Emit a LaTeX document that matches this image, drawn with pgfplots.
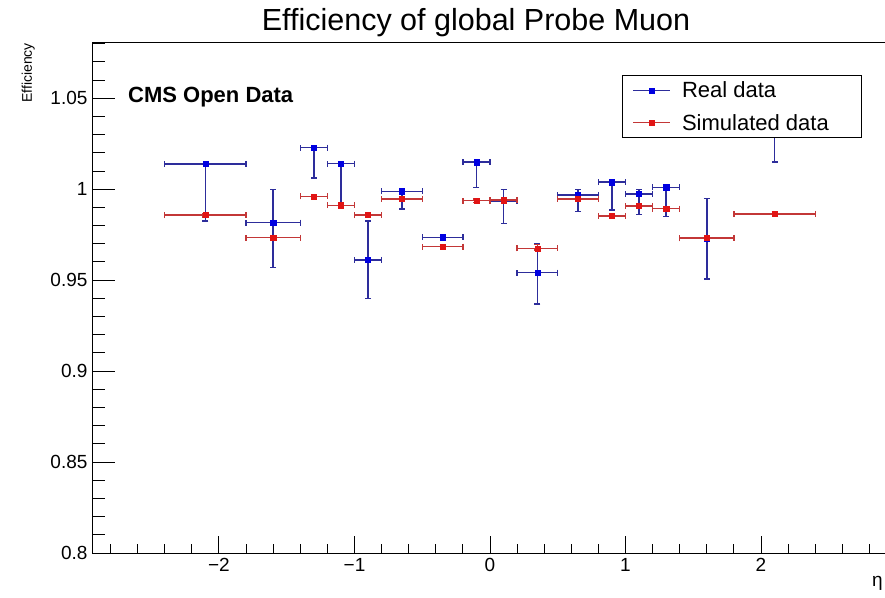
\documentclass[border=0pt]{standalone}
\usepackage{pgfplots}
\pgfplotsset{compat=1.18}
\usepackage{pgfplotstable}
\usepackage{fontspec}
\setmainfont{Liberation Sans}
\definecolor{bluemk}{RGB}{0,0,225}
\definecolor{blueerr}{RGB}{45,45,155}
\definecolor{redmk}{RGB}{225,20,20}
\definecolor{rederr}{RGB}{195,55,55}

\pgfplotstableread{
x     y      exm  exp  eym    eyp
-2.1  1.0139 0.3  0.3  0.0314 0
-1.6  0.9816 0.2  0.2  0.0246 0.0184
-1.3  1.0229 0.1  0.1  0.0168 0
-1.1  1.0141 0.1  0.1  0.0228 0
-0.9  0.9612 0.1  0.1  0.0212 0.0213
-0.65 0.9989 0.15 0.15 0.0098 0.0010
-0.35 0.9736 0.15 0.15 0.0010 0.0010
-0.1  1.0149 0.1  0.1  0.0140 0
0.1   0.9935 0.1  0.1  0.0125 0.0065
0.35  0.9541 0.15 0.15 0.0173 0.0161
0.65  0.9969 0.15 0.15 0.0092 0.0031
0.9   1.0039 0.1  0.1  0.0153 0
1.1   0.9974 0.1  0.1  0.0112 0.0026
1.3   1.0011 0.1  0.1  0.0162 0
1.6   0.9730 0.2  0.2  0.0224 0.0220
2.1   1.0450 0.3  0.3  0.0301 0
}\realdata

\pgfplotstableread{
x     y      exm  exp  eym    eyp
-2.1  0.9858 0.3  0.3  0.0010 0.0010
-1.6  0.9733 0.2  0.2  0.0010 0.0010
-1.3  0.9961 0.1  0.1  0.0010 0.0010
-1.1  0.9912 0.1  0.1  0.0010 0.0010
-0.9  0.9858 0.1  0.1  0.0010 0.0010
-0.65 0.9947 0.15 0.15 0.0010 0.0010
-0.35 0.9684 0.15 0.15 0.0010 0.0010
-0.1  0.9937 0.1  0.1  0.0010 0.0010
0.1   0.9940 0.1  0.1  0.0010 0.0010
0.35  0.9675 0.15 0.15 0.0010 0.0020
0.65  0.9947 0.15 0.15 0.0010 0.0010
0.9   0.9853 0.1  0.1  0.0010 0.0010
1.1   0.9908 0.1  0.1  0.0010 0.0010
1.3   0.9893 0.1  0.1  0.0010 0.0010
1.6   0.9732 0.2  0.2  0.0010 0.0010
2.1   0.9864 0.3  0.3  0.0010 0.0010
}\simdata

\begin{document}
\begin{tikzpicture}[x=1pt,y=1pt]
\path[use as bounding box] (-92,-44) rectangle (793,553);
\clip (-92,-44) rectangle (793,553);
\begin{axis}[
  at={(0pt,0pt)}, anchor=south west, scale only axis,
  width=796pt, height=510pt,
  xmin=-2.937, xmax=2.937, ymin=0.8, ymax=1.0804,
  axis line style={line width=1pt, black},
  tick pos=left, tick align=inside,
  xtick={-2,-1,0,1,2}, xticklabels={−2,−1,0,1,2},
  minor xtick={-2.8,-2.6,-2.4,-2.2,-1.8,-1.6,-1.4,-1.2,-0.8,-0.6,-0.4,-0.2,0.2,0.4,0.6,0.8,1.2,1.4,1.6,1.8,2.2,2.4,2.6,2.8},
  ytick={0.8,0.85,0.9,0.95,1,1.05}, yticklabels={0.8,0.85,0.9,0.95,1,1.05},
  minor ytick={0.81,0.82,0.83,0.84,0.86,0.87,0.88,0.89,0.91,0.92,0.93,0.94,0.96,0.97,0.98,0.99,1.01,1.02,1.03,1.04,1.06,1.07,1.08},
  major x tick style={/pgfplots/major tick length=17pt, line width=1pt, black},
  minor x tick style={/pgfplots/minor tick length=9pt, line width=1pt, black},
  major y tick style={/pgfplots/major tick length=23pt, line width=1pt, black},
  minor y tick style={/pgfplots/minor tick length=13pt, line width=1pt, black},
  tick label style={font=\fontsize{19}{19}\selectfont},
  xticklabel style={yshift=-2pt},
  yticklabel style={xshift=-1pt},
  legend image code/.code={%
    \draw[#1] (0pt,0pt) -- (37pt,0pt);
    \draw[#1] plot coordinates {(18.5pt,0pt)};},
  legend cell align=left,
  legend style={at={(0.666,0.937)}, anchor=north west, draw=black, line width=1pt,
    fill=white, font=\fontsize{22}{22}\selectfont, inner xsep=10pt, inner ysep=4pt,
    row sep=11pt},
  clip=false,
]
\addlegendimage{blueerr, line width=1.4pt, mark=square*, mark size=2.6pt, mark options={fill=bluemk, draw=bluemk, line width=0.4pt}}
\addlegendentry{\hspace{9pt}\makebox[167pt][l]{Real data}}
\addlegendimage{rederr, line width=1.4pt, mark=square*, mark size=2.6pt, mark options={fill=redmk, draw=redmk, line width=0.4pt}}
\addlegendentry{\hspace{9pt}\makebox[167pt][l]{Simulated data}}

\addplot[forget plot, only marks, mark=square*, mark size=2.6pt,
  mark options={fill=bluemk, draw=bluemk, line width=0.4pt},
  error bars/.cd, x dir=both, y dir=both, x explicit, y explicit,
  error bar style={blueerr, line width=1.4pt},
  error mark options={rotate=90, blueerr, line width=1.4pt, mark size=3pt}]
  table[x=x, y=y, x error plus=exp, x error minus=exm, y error plus=eyp, y error minus=eym]{\realdata};

\addplot[forget plot, only marks, mark=square*, mark size=2.6pt,
  mark options={fill=redmk, draw=redmk, line width=0.4pt},
  error bars/.cd, x dir=both, y dir=both, x explicit, y explicit,
  error bar style={rederr, line width=1.4pt},
  error mark options={rotate=90, rederr, line width=1.4pt, mark size=3pt}]
  table[x=x, y=y, x error plus=exp, x error minus=exm, y error plus=eyp, y error minus=eym]{\simdata};

\node[anchor=base west, inner sep=0pt, font=\bfseries\fontsize{22}{22}\selectfont] at (rel axis cs:0.0452,0.884) {CMS Open Data};
\node[anchor=east, inner sep=0pt, font=\fontsize{19}{19}\selectfont] at (rel axis cs:1,0) [xshift=-5pt, yshift=-30pt] {η};
\node[xshift=-57pt, rotate=90, anchor=south east, inner sep=0pt, font=\fontsize{14}{14}\selectfont] at (rel axis cs:0,1) {Efficiency};
\node[anchor=base, inner sep=0pt, font=\fontsize{30.5}{30.5}\selectfont] at (rel axis cs:0.4824,1) [yshift=12pt] {Efficiency of global Probe Muon};
\end{axis}
\end{tikzpicture}
\end{document}
